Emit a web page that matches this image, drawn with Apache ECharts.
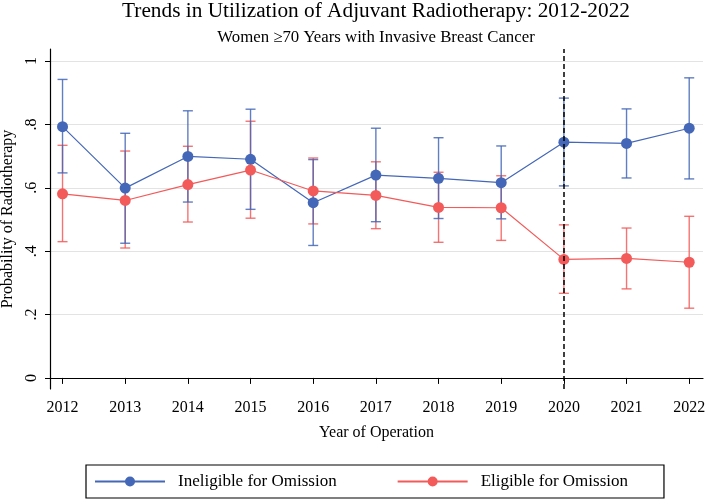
<!DOCTYPE html>
<html>
<head>
<meta charset="utf-8">
<script src="https://cdn.jsdelivr.net/npm/echarts@6/dist/echarts.min.js"></script>
<style>
html,body{margin:0;padding:0;background:#fff;}
#chart{width:706px;height:500px;}
</style>
</head>
<body>
<div id="chart"></div>
<script>
var years = [2012, 2013, 2014, 2015, 2016, 2017, 2018, 2019, 2020, 2021, 2022];
var ineligible   = [0.793, 0.599, 0.699, 0.690, 0.553, 0.640, 0.630, 0.616, 0.744, 0.740, 0.788];
var ineligibleLo = [0.647, 0.425, 0.555, 0.532, 0.418, 0.493, 0.503, 0.502, 0.606, 0.631, 0.628];
var ineligibleHi = [0.942, 0.772, 0.843, 0.848, 0.689, 0.788, 0.758, 0.732, 0.883, 0.849, 0.947];
var eligible     = [0.581, 0.560, 0.610, 0.656, 0.590, 0.576, 0.538, 0.537, 0.374, 0.377, 0.365];
var eligibleLo   = [0.430, 0.410, 0.492, 0.504, 0.486, 0.471, 0.428, 0.434, 0.267, 0.281, 0.220];
var eligibleHi   = [0.734, 0.716, 0.731, 0.810, 0.694, 0.682, 0.649, 0.638, 0.483, 0.473, 0.510];
var yTicks = [0, 0.2, 0.4, 0.6, 0.8, 1];
var yTickLabels = ['0', '.2', '.4', '.6', '.8', '1'];
var yGridTicks = [0.2, 0.4, 0.6, 0.8, 1];
var policyYear = 2020;

var BLUE = '#4467B7';
var RED = '#F35A5A';
var FONT = 'Liberation Serif';

function errorBars(name, lo, hi, color) {
  return {
    type: 'custom',
    name: name,
    data: years.map(function (y, i) { return [y, lo[i], hi[i]]; }),
    encode: { x: 0, y: [1, 2] },
    silent: true,
    z: 1,
    renderItem: function (params, api) {
      var x = api.value(0);
      var pLo = api.coord([x, api.value(1)]);
      var pHi = api.coord([x, api.value(2)]);
      var hw = 5;
      var st = { stroke: color, lineWidth: 1.4, opacity: 0.85 };
      return {
        type: 'group',
        children: [
          { type: 'line', shape: { x1: pHi[0], y1: pHi[1], x2: pLo[0], y2: pLo[1] }, style: st },
          { type: 'line', shape: { x1: pHi[0] - hw, y1: pHi[1], x2: pHi[0] + hw, y2: pHi[1] }, style: st },
          { type: 'line', shape: { x1: pLo[0] - hw, y1: pLo[1], x2: pLo[0] + hw, y2: pLo[1] }, style: st }
        ]
      };
    }
  };
}

var chart = echarts.init(document.getElementById('chart'), null, { renderer: 'canvas' });
chart.setOption({
  animation: false,
  backgroundColor: '#fff',
  title: [
    { text: 'Trends in Utilization of Adjuvant Radiotherapy: 2012-2022', left: 376, top: 1, padding: 0, textAlign: 'center',
      textStyle: { fontFamily: FONT, fontSize: 21.3, fontWeight: 'normal', color: '#000' } },
    { text: 'Women \u226570 Years with Invasive Breast Cancer', left: 376, top: 29, padding: 0, textAlign: 'center',
      textStyle: { fontFamily: FONT, fontSize: 16.8, fontWeight: 'normal', color: '#000' } }
  ],
  grid: { left: 50, right: 3, top: 49, bottom: 111, containLabel: false, outerBoundsMode: 'none' },
  legend: {
    data: ['Ineligible for Omission', 'Eligible for Omission'],
    left: 86, top: 465,
    orient: 'horizontal',
    padding: [8, 36, 8, 8],
    itemWidth: 70, itemHeight: 12.5, itemGap: 60,
    borderColor: '#000', borderWidth: 1.2, borderRadius: 0,
    selectedMode: false,
    textStyle: { fontFamily: FONT, fontSize: 17, color: '#000', padding: [0, 0, 0, 8] }
  },
  xAxis: {
    type: 'value', min: 2011.8, max: 2022.22,
    name: 'Year of Operation', nameLocation: 'middle', nameGap: 36,
    nameTextStyle: { fontFamily: FONT, fontSize: 16, color: '#000' },
    axisLine: { show: true, lineStyle: { color: '#000', width: 1.2 } },
    axisTick: { show: true, customValues: years, length: 6, lineStyle: { color: '#000', width: 1 } },
    axisLabel: { customValues: years, margin: 11, fontFamily: FONT, fontSize: 16, color: '#000',
      formatter: function (v) { return String(v); } },
    splitLine: { show: false }
  },
  yAxis: [
    {
      type: 'value', min: -0.035, max: 1.038,
      name: 'Probability of Radiotherapy', nameLocation: 'middle', nameGap: 31,
      nameTextStyle: { fontFamily: FONT, fontSize: 16, color: '#000' },
      axisLine: { show: true, lineStyle: { color: '#000', width: 1.2 } },
      axisTick: { show: true, customValues: yTicks, length: 5, lineStyle: { color: '#000', width: 1 } },
      axisLabel: { customValues: yTicks, rotate: 90, margin: 10, fontFamily: FONT, fontSize: 16, color: '#000',
        formatter: function (v) { var i = yTicks.indexOf(Math.round(v * 10) / 10); return i >= 0 ? yTickLabels[i] : ''; } },
      splitLine: { show: false }
    },
    {
      type: 'value', min: -0.035, max: 1.038, position: 'left',
      axisLine: { show: false }, axisLabel: { show: false },
      axisTick: { show: false, customValues: yGridTicks },
      splitLine: { show: true, lineStyle: { color: '#e3e3e3', width: 1.2 } }
    }
  ],
  series: [
    errorBars('Eligible CI', eligibleLo, eligibleHi, RED),
    errorBars('Ineligible CI', ineligibleLo, ineligibleHi, BLUE),
    {
      type: 'line', name: 'Ineligible for Omission',
      data: years.map(function (y, i) { return [y, ineligible[i]]; }),
      symbol: 'circle', symbolSize: 11, showSymbol: true,
      lineStyle: { color: BLUE, width: 1.2 }, itemStyle: { color: BLUE },
      z: 3,
      markLine: {
        silent: true, symbol: 'none', label: { show: false },
        lineStyle: { color: '#000', type: [5, 3], width: 1.5 },
        data: [{ xAxis: policyYear }]
      }
    },
    {
      type: 'line', name: 'Eligible for Omission',
      data: years.map(function (y, i) { return [y, eligible[i]]; }),
      symbol: 'circle', symbolSize: 11, showSymbol: true,
      lineStyle: { color: RED, width: 1.2 }, itemStyle: { color: RED },
      z: 4
    }
  ]
});
</script>
</body>
</html>
